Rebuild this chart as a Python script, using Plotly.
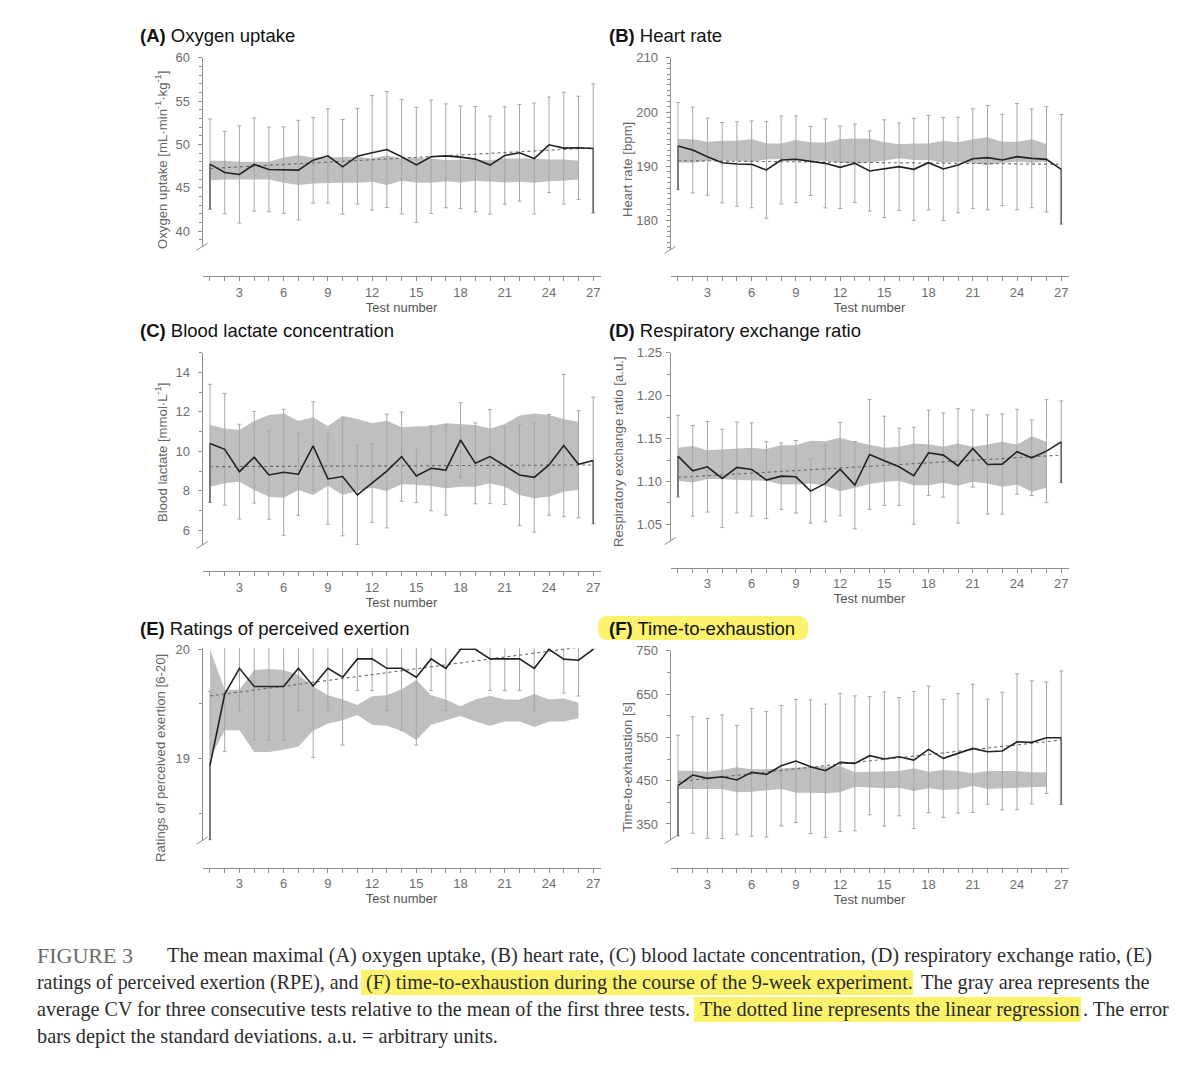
import plotly.graph_objects as go

W, H = 1200, 1066

# ---------------- data ----------------
tests = list(range(1, 28))
band_tests = list(range(1, 27))
reg_x = [1, 27]

# (A) Oxygen uptake
a_mean = [47.73, 46.77, 46.54, 47.69, 47.12, 47.04, 47.04, 48.19, 48.69, 47.42, 48.65, 49.04, 49.42, 48.58,
          47.65, 48.58, 48.69, 48.54, 48.31, 47.62, 48.73, 49.04, 48.38, 49.96, 49.58, 49.62, 49.54]
a_sd = [5.21, 4.75, 5.62, 5.38, 4.88, 5.0, 5.75, 4.94, 5.44, 5.46, 5.52, 6.6, 6.7, 6.6, 6.65, 6.54, 6.0, 5.92,
        6.08, 5.65, 5.63, 5.58, 6.4, 5.52, 6.46, 5.96, 7.46]
a_hi = [48.12, 48.12, 48.0, 48.0, 48.0, 48.5, 48.77, 48.5, 48.5, 48.5, 48.58, 48.38, 48.77, 48.38, 48.46, 48.38,
        48.19, 48.27, 48.19, 48.19, 48.38, 48.38, 48.38, 48.27, 48.27, 48.12]
a_lo = [45.88, 45.96, 45.96, 46.0, 45.96, 45.58, 45.31, 45.5, 45.58, 45.58, 45.58, 45.69, 45.31, 45.81, 45.58,
        45.58, 45.77, 45.62, 45.81, 45.69, 45.62, 45.69, 45.58, 45.77, 45.81, 45.96]
a_reg = [47.23, 49.62]

# (B) Heart rate
b_mean = [193.74, 193.0, 191.78, 190.67, 190.43, 190.37, 189.33, 191.17, 191.29, 190.98, 190.55, 189.82, 190.55,
          189.14, 189.57, 189.94, 189.45, 190.67, 189.51, 190.25, 191.41, 191.6, 191.17, 191.78, 191.47, 191.29, 189.45]
b_sd = [8.04, 7.9, 7.1, 7.4, 7.8, 8.0, 8.9, 8.1, 8.0, 6.35, 8.2, 7.6, 7.24, 7.4, 9.0, 8.04, 9.4, 8.7, 9.5, 8.8,
        9.2, 9.6, 8.4, 9.8, 9.1, 9.7, 10.1]
b_hi = [195.03, 194.97, 194.54, 194.72, 194.72, 195.03, 194.23, 194.23, 194.85, 194.42, 194.36, 194.97, 195.15,
        195.09, 194.42, 194.05, 194.23, 194.23, 194.72, 194.42, 194.97, 195.34, 194.54, 194.54, 194.97, 194.11]
b_lo = [190.67, 190.67, 191.04, 191.04, 191.04, 190.8, 191.29, 191.29, 191.04, 191.04, 191.04, 190.67, 190.43,
        190.67, 191.04, 191.47, 191.17, 191.17, 190.67, 190.85, 190.55, 190.25, 190.67, 190.85, 190.67, 190.85]
b_reg = [191.04, 190.37]

# (C) Blood lactate concentration
c_mean = [10.4, 10.1, 8.97, 9.7, 8.8, 8.94, 8.84, 10.27, 8.6, 8.72, 7.79, 8.38, 9.0, 9.73, 8.75, 9.14, 9.05,
          10.57, 9.39, 9.73, 9.27, 8.8, 8.68, 9.31, 10.29, 9.34, 9.53]
c_sd = [2.99, 2.83, 2.4, 2.32, 2.24, 3.19, 2.08, 2.24, 2.3, 3.0, 2.52, 1.98, 2.88, 2.26, 1.35, 2.15, 2.28, 1.89,
        2.05, 2.38, 1.96, 2.55, 2.77, 2.55, 3.6, 2.71, 3.21]
c_hi = [11.33, 11.16, 11.08, 11.54, 11.84, 11.92, 11.54, 11.72, 11.28, 11.79, 11.64, 11.42, 11.55, 11.22, 11.25,
        11.28, 11.42, 11.37, 11.33, 11.16, 11.38, 11.81, 11.92, 11.84, 11.64, 11.5]
c_lo = [8.21, 8.38, 8.46, 8.04, 7.7, 7.65, 8.04, 7.79, 8.26, 7.79, 7.99, 8.16, 7.99, 8.33, 8.3, 8.24, 8.13, 8.21,
        8.21, 8.38, 8.21, 7.79, 7.62, 7.7, 7.96, 8.04]
c_reg = [9.22, 9.31]

# (D) Respiratory exchange ratio
d_mean = [1.1296, 1.1125, 1.1172, 1.1036, 1.1164, 1.1141, 1.1017, 1.1063, 1.1055, 1.0888, 1.0978, 1.1145, 1.0958,
          1.1316, 1.1242, 1.1172, 1.1067, 1.1335, 1.1308, 1.1183, 1.1385, 1.1199, 1.1203, 1.1347, 1.1277, 1.1354, 1.1463]
d_sd = [0.0476, 0.0528, 0.0528, 0.0573, 0.053, 0.0544, 0.0447, 0.0388, 0.0423, 0.0373, 0.0447, 0.0544, 0.0509,
        0.0641, 0.052, 0.045, 0.0565, 0.0497, 0.0491, 0.0666, 0.045, 0.0578, 0.0584, 0.0495, 0.0441, 0.06, 0.0476]
d_hi = [1.1393, 1.1413, 1.1366, 1.1374, 1.1385, 1.1393, 1.1378, 1.1424, 1.1424, 1.1475, 1.1471, 1.151, 1.1463,
        1.1424, 1.1393, 1.1405, 1.1444, 1.1436, 1.1405, 1.1444, 1.1405, 1.1432, 1.1463, 1.1432, 1.1529, 1.1463]
d_lo = [1.1009, 1.0989, 1.1028, 1.1028, 1.1017, 1.1009, 1.1009, 1.0966, 1.0966, 1.0978, 1.0951, 1.0888, 1.0927,
        1.097, 1.0997, 1.1005, 1.0958, 1.0958, 1.0986, 1.0951, 1.0997, 1.0978, 1.0939, 1.0966, 1.088, 1.0927]
d_reg = [1.1048, 1.1308]

# (E) Ratings of perceived exertion
e_mean = [18.936, 19.59, 19.826, 19.66, 19.66, 19.66, 19.826, 19.665, 19.826, 19.744, 19.912, 19.912, 19.826,
          19.826, 19.744, 19.912, 19.826, 20.0, 20.0, 19.912, 19.912, 19.912, 19.826, 20.0, 19.91, 19.9, 20.0]
e_sd = [0.68, 0.526, 0.387, 0.489, 0.489, 0.489, 0.387, 0.653, 0.387, 0.619, 0.29, 0.29, 0.387, 0.57, 0.619, 0.29,
        0.387, 0.0, 0.0, 0.29, 0.29, 0.29, 0.387, 0.0, 0.31, 0.327, 0.0]
e_hi = [20.0, 19.63, 19.63, 19.81, 19.82, 19.81, 19.765, 19.66, 19.58, 19.54, 19.49, 19.57, 19.58, 19.634, 19.72,
        19.58, 19.54, 19.48, 19.54, 19.575, 19.54, 19.54, 19.59, 19.54, 19.55, 19.51]
e_lo = [19.0, 19.26, 19.26, 19.06, 19.06, 19.08, 19.11, 19.255, 19.32, 19.35, 19.40, 19.31, 19.30, 19.255, 19.17,
        19.31, 19.35, 19.39, 19.34, 19.30, 19.34, 19.34, 19.29, 19.34, 19.34, 19.37]
e_reg = [19.573, 20.036]

# (F) Time-to-exhaustion
f_mean = [438.5, 463.1, 455.4, 459.2, 451.5, 469.2, 464.6, 484.6, 495.4, 482.3, 473.1, 492.3, 490.0, 507.7, 500.0,
          505.4, 497.7, 522.3, 501.5, 513.1, 524.6, 516.9, 518.5, 540.0, 538.5, 549.2, 549.2]
f_sd = [116.5, 134.6, 138.5, 142.7, 126.2, 147.7, 145.0, 139.2, 142.3, 154.2, 153.8, 159.6, 155.8, 136.5, 155.0,
        136.5, 158.1, 146.2, 136.2, 138.0, 148.1, 121.2, 135.8, 157.0, 142.3, 128.8, 154.2]
f_hi = [473.1, 473.1, 470.8, 474.6, 480.8, 476.2, 476.2, 478.5, 480.8, 482.3, 482.3, 483.8, 469.2, 470.8, 472.3,
        472.3, 478.5, 470.8, 474.6, 472.3, 466.9, 472.3, 472.3, 472.3, 469.2, 469.2]
f_lo = [430.8, 430.8, 430.8, 430.8, 423.1, 424.6, 426.9, 430.8, 422.3, 422.3, 420.8, 423.1, 436.2, 433.8, 432.3,
        433.8, 426.2, 432.3, 428.5, 430.0, 438.5, 430.8, 432.3, 433.8, 434.6, 436.2]
f_reg = [447.7, 543.8]

panel_titles = ["<b>(A)</b> Oxygen uptake", "<b>(B)</b> Heart rate", "<b>(C)</b> Blood lactate concentration",
                "<b>(D)</b> Respiratory exchange ratio", "<b>(E)</b> Ratings of perceived exertion",
                "<b>(F)</b> Time-to-exhaustion"]
y_titles = ["Oxygen uptake [mL·min<sup>-1</sup>·kg<sup>-1</sup>]", "Heart rate [bpm]",
            "Blood lactate [mmol·L<sup>-1</sup>]", "Respiratory exchange ratio [a.u.]",
            "Ratings of perceived exertion [6-20]", "Time-to-exhaustion [s]"]
x_title = "Test number"

caption_pieces = [
    # (text, line index, x start px, font size, color)
    ("FIGURE 3", 0, 35, 22, "#6b6b6b"),
    ("The mean maximal (A) oxygen uptake, (B) heart rate, (C) blood lactate concentration, (D) respiratory exchange ratio, (E)", 0, 165, 20.3, "#2b2b2b"),
    ("ratings of perceived exertion (RPE), and", 1, 35, 19.9, "#2b2b2b"),
    ("(F) time-to-exhaustion during the course of the 9-week experiment.", 1, 364, 20.3, "#2b2b2b"),
    ("The gray area represents the", 1, 919, 20.3, "#2b2b2b"),
    ("average CV for three consecutive tests relative to the mean of the first three tests.", 2, 35, 20.1, "#2b2b2b"),
    ("The dotted line represents the linear regression", 2, 698, 20.3, "#2b2b2b"),
    (". The error", 2, 1081, 20.3, "#2b2b2b"),
    ("bars depict the standard deviations. a.u. = arbitrary units.", 3, 35, 20.3, "#2b2b2b"),
]

data_sets = [
    (a_mean, a_sd, a_hi, a_lo, a_reg),
    (b_mean, b_sd, b_hi, b_lo, b_reg),
    (c_mean, c_sd, c_hi, c_lo, c_reg),
    (d_mean, d_sd, d_hi, d_lo, d_reg),
    (e_mean, e_sd, e_hi, e_lo, e_reg),
    (f_mean, f_sd, f_hi, f_lo, f_reg),
]

# ---------------- layout / style ----------------
def fx(p):
    return p / W

def fy(p):
    return 1 - p / H

panels = [
    dict(x0=202.6, top=57.7, bot=246.7, xpos=276.0, yr=[38.2, 60.02], t0=40, dt=5, mdt=1, fmt="", tsx=138, tsy=35, yt=(161, 160)),
    dict(x0=670.6, top=57.7, bot=249.9, xpos=276.0, yr=[174.6, 210.02], t0=180, dt=10, mdt=1, fmt="", tsx=607, tsy=35, yt=(627, 170)),
    dict(x0=202.6, top=352.55, bot=545.1, xpos=571.0, yr=[5.25, 15.0], t0=6, dt=2, mdt=1, fmt="", tsx=138, tsy=330, yt=(161, 453)),
    dict(x0=670.6, top=352.7, bot=541.05, xpos=567.7, yr=[1.0306, 1.2502], t0=1.05, dt=0.05, mdt=0.025, fmt=".2f", tsx=607, tsy=330, yt=(619, 452)),
    dict(x0=202.6, top=648.2, bot=840.6, xpos=867.7, yr=[18.25, 20.01], t0=19, dt=1, mdt=0.5, fmt="", tsx=138, tsy=628, yt=(160, 758)),
    dict(x0=670.6, top=650.7, bot=840.0, xpos=868.3, yr=[313, 750.2], t0=350, dt=100, mdt=50, fmt="", tsx=607, tsy=628, yt=(627, 767)),
]
PW = 398.0

AXC = "#8f8f8f"
TICKC = "#6e6e6e"
BAND = "#bfbfbf"
ERR = "#a6a6a6"
MEANC = "#222222"
REGC = "#6a6a6a"
SANS = "Liberation Sans, Arial, sans-serif"
SERIF = "Liberation Serif, Times New Roman, serif"

fig = go.Figure()
layout = dict(width=W, height=H, margin=dict(l=0, r=0, t=0, b=0, autoexpand=False), paper_bgcolor="white",
              plot_bgcolor="rgba(0,0,0,0)", showlegend=False)
shapes = []
annotations = []

for i, (p, ds) in enumerate(zip(panels, data_sets)):
    mean, sd, hi, lo, reg = ds
    n = "" if i == 0 else str(i + 1)
    xa, ya = "x" + n, "y" + n
    fig.add_trace(go.Scatter(x=band_tests + band_tests[::-1], y=hi + lo[::-1], fill="toself",
                             fillcolor=BAND, line=dict(width=0), mode="lines", hoverinfo="skip",
                             xaxis=xa, yaxis=ya))
    fig.add_trace(go.Scatter(x=tests, y=mean, mode="markers", marker=dict(size=1, color="rgba(0,0,0,0)"),
                             error_y=dict(type="data", array=sd, visible=True, color=ERR, thickness=1, width=2),
                             xaxis=xa, yaxis=ya))
    fig.add_trace(go.Scatter(x=reg_x, y=reg, mode="lines", line=dict(color=REGC, width=1.1, dash="dot"),
                             xaxis=xa, yaxis=ya))
    fig.add_trace(go.Scatter(x=[tests[0], tests[0], None, tests[-1], tests[-1]],
                             y=[mean[0] - sd[0], mean[0], None, mean[-1] - sd[-1], mean[-1]],
                             mode="lines", line=dict(color="#666666", width=1.6), xaxis=xa, yaxis=ya))
    fig.add_trace(go.Scatter(x=tests, y=mean, mode="lines", line=dict(color=MEANC, width=1.6),
                             xaxis=xa, yaxis=ya))

    layout["xaxis" + n] = dict(domain=[fx(p["x0"]), fx(p["x0"] + PW)], range=[0.5, 27.5], anchor="free",
                               position=fy(p["xpos"]), showline=True, linecolor=AXC, linewidth=1,
                               tick0=3, dtick=3, ticks="outside", ticklen=4, tickcolor=AXC,
                               minor=dict(tick0=1, dtick=1, ticks="outside", ticklen=4, tickcolor=AXC),
                               tickfont=dict(family=SANS, size=13, color=TICKC),
                               showgrid=False, zeroline=False, automargin=False,
                               title=dict(text=x_title, font=dict(family=SANS, size=13, color="#555555"),
                                          standoff=1))
    layout["yaxis" + n] = dict(domain=[fy(p["bot"]), fy(p["top"])], range=p["yr"], anchor=xa,
                               showline=True, linecolor=AXC, linewidth=1, tick0=p["t0"], dtick=p["dt"],
                               tickformat=p["fmt"], ticks="outside", ticklen=4, tickcolor=AXC,
                               ticklabelstandoff=5 if i != 3 else 1,
                               minor=dict(dtick=p["mdt"], ticks="outside", ticklen=3, tickcolor=AXC),
                               tickfont=dict(family=SANS, size=13, color=TICKC), showgrid=False, zeroline=False,
                               automargin=False)
    annotations.append(dict(text=y_titles[i], x=fx(p["yt"][0]), y=fy(p["yt"][1]), xref="paper", yref="paper",
                            xanchor="center", yanchor="middle", textangle=-90, showarrow=False,
                            font=dict(family=SANS, size=13.2, color="#666666")))
    shapes.append(dict(type="line", xref="paper", yref="paper", x0=fx(p["x0"] - 6), y0=fy(p["bot"] + 3.5),
                       x1=fx(p["x0"] + 5), y1=fy(p["bot"] - 3.5), line=dict(color=AXC, width=1)))
    annotations.append(dict(text=panel_titles[i], x=fx(p["tsx"]), y=fy(p["tsy"]), xref="paper", yref="paper",
                            xanchor="left", yanchor="middle", showarrow=False,
                            font=dict(family=SANS, size=18.5, color="#111111")))

def rounded_rect(x0, y0, x1, y1, r):
    X = lambda v: fx(v)
    Y = lambda v: fy(v)
    return (f"M {X(x0 + r)},{Y(y0)} L {X(x1 - r)},{Y(y0)} Q {X(x1)},{Y(y0)} {X(x1)},{Y(y0 + r)} "
            f"L {X(x1)},{Y(y1 - r)} Q {X(x1)},{Y(y1)} {X(x1 - r)},{Y(y1)} L {X(x0 + r)},{Y(y1)} "
            f"Q {X(x0)},{Y(y1)} {X(x0)},{Y(y1 - r)} L {X(x0)},{Y(y0 + r)} Q {X(x0)},{Y(y0)} {X(x0 + r)},{Y(y0)} Z")

HL = "#fcf26c"
shapes.append(dict(type="path", xref="paper", yref="paper", path=rounded_rect(598, 616, 808, 640, 10),
                   fillcolor=HL, line=dict(width=0), layer="below"))

line_y = [955, 982, 1009, 1036]
hl_boxes = [(361, 970, 913, 995), (694, 997, 1081, 1022)]
for (x0, y0, x1, y1) in hl_boxes:
    shapes.append(dict(type="rect", xref="paper", yref="paper", x0=fx(x0), x1=fx(x1), y0=fy(y1), y1=fy(y0),
                       fillcolor=HL, line=dict(width=0), layer="below"))
for text, li, xs, fs, col in caption_pieces:
    annotations.append(dict(text=text, x=fx(xs), y=fy(line_y[li]), xref="paper", yref="paper",
                            xanchor="left", yanchor="middle", showarrow=False,
                            font=dict(family=SERIF, size=fs, color=col)))

layout["shapes"] = shapes
layout["annotations"] = annotations
fig.update_layout(**layout)

post = ("document.body.style.margin='0px';document.body.style.padding='0px';"
        "var g=document.getElementById('{plot_id}');g.style.position='absolute';"
        "g.style.left='0px';g.style.top='0px';")
fig.write_html("out.html", config={"displayModeBar": False}, post_script=post)
